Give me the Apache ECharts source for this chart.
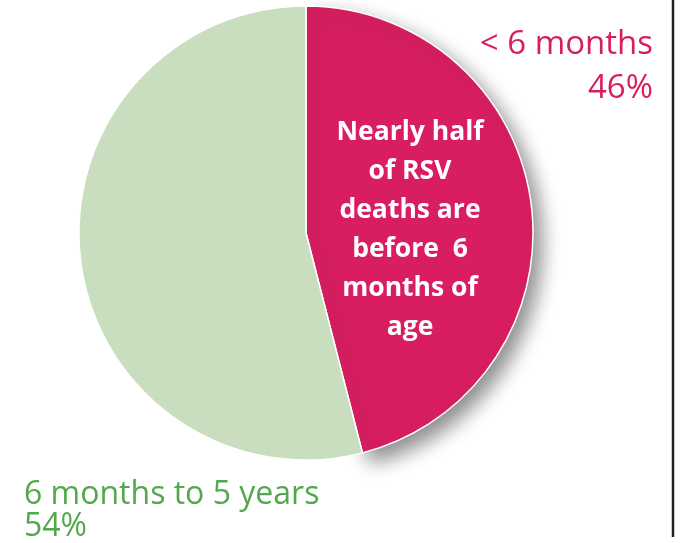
<!DOCTYPE html>
<html>
<head>
<meta charset="utf-8">
<script src="https://cdn.jsdelivr.net/npm/echarts@6/dist/echarts.min.js"></script>
<style>
  html, body { margin: 0; padding: 0; background: #fff; }
  #chart { width: 682px; height: 543px; }
</style>
</head>
<body>
<div id="chart"></div>
<script>
// age groups of RSV deaths
const categories = ['< 6 months', '6 months to 5 years']
const values = [46, 54]
const colors = ['#D81E61', '#C9DDBF']
const labelColors = ['#D81E61', '#52A84B']
const note = ['Nearly half', 'of RSV', 'deaths are', 'before  6', 'months of', 'age']

const total = values.reduce((a, b) => a + b, 0)
const pct = values.map((v) => Math.round((v / total) * 100) + '%')

const chart = echarts.init(document.getElementById('chart'))
const font = '"Open Sans", Lato, sans-serif'

const option = {
  animation: false,
  series: [
    {
      type: 'pie',
      center: [306, 233],
      radius: [0, 227],
      startAngle: 90,
      clockwise: true,
      label: { show: false },
      labelLine: { show: false },
      emphasis: { disabled: true },
      itemStyle: { borderColor: '#fff', borderWidth: 1.5 },
      data: categories.map((name, i) => ({
        name,
        value: values[i],
        itemStyle: i === 0
          ? { color: colors[i], shadowBlur: 20, shadowOffsetX: 8, shadowOffsetY: 10, shadowColor: 'rgba(0,0,0,0.45)' }
          : { color: colors[i] }
      }))
    }
  ],
  graphic: [
    {
      type: 'line',
      z: 10,
      shape: { x1: 673, y1: 0, x2: 673, y2: 537 },
      style: { stroke: '#222', lineWidth: 2.5 }
    },
    {
      type: 'text',
      z: 10,
      x: 653,
      y: 23,
      style: {
        text: categories[0] + '\n' + pct[0],
        align: 'right',
        verticalAlign: 'top',
        lineHeight: 44,
        font: '33px ' + font,
        fill: labelColors[0]
      }
    },
    {
      type: 'text',
      z: 10,
      x: 24,
      y: 479,
      style: {
        text: categories[1] + '\n' + pct[1],
        align: 'left',
        verticalAlign: 'top',
        lineHeight: 32,
        font: '32px ' + font,
        fill: labelColors[1]
      }
    },
    {
      type: 'text',
      z: 10,
      x: 410,
      y: 113,
      style: {
        text: note.join('\n'),
        align: 'center',
        verticalAlign: 'top',
        lineHeight: 39,
        font: 'bold 26.5px ' + font,
        fill: '#fff'
      }
    }
  ]
}
chart.setOption(option)
</script>
</body>
</html>
